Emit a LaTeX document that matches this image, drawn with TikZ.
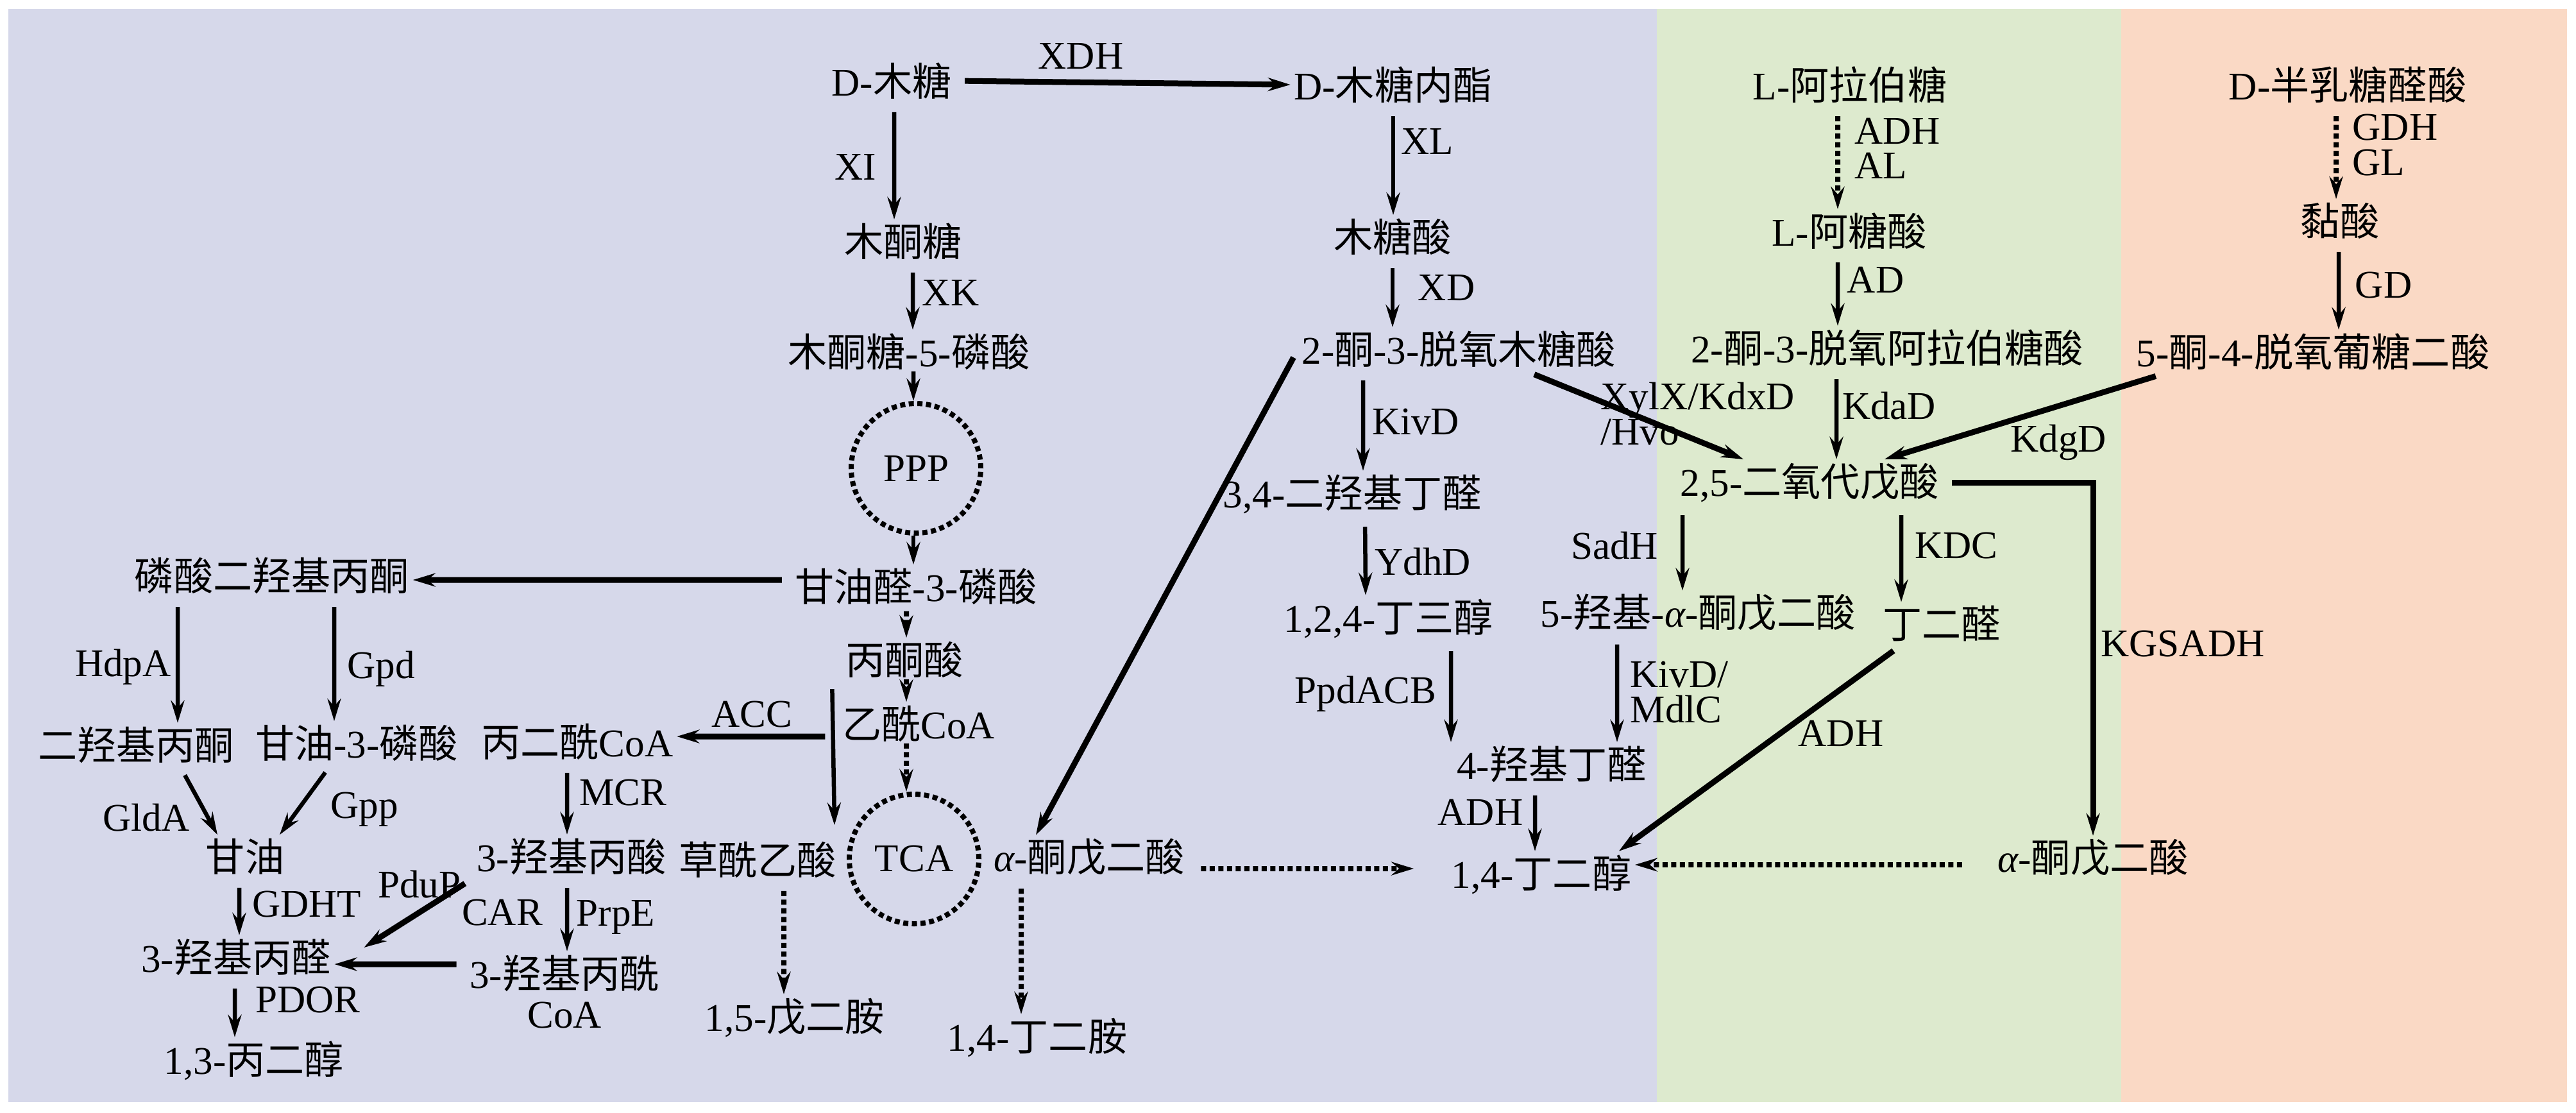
\documentclass[tikz,border=0pt]{standalone}
\usepackage{fontspec}
\setmainfont{Liberation Serif}
\newfontfamily\zhfont{Noto Sans CJK SC}
\usepackage{tikz}
\usetikzlibrary{arrows.meta}

\definecolor{bgpurple}{RGB}{214,216,234}
\definecolor{bggreen}{RGB}{221,234,206}
\definecolor{bgorange}{RGB}{250,217,197}
\newcommand{\zh}[1]{{\zhfont #1}}
\newcommand{\lbl}{\fontsize{17.4}{20}\selectfont}

\begin{document}
\begin{tikzpicture}[
  cpd/.style={inner sep=0.5mm, font=\lbl},
  enz/.style={inner sep=0.5mm, font=\lbl},
  enzz/.style={enz, align=left, anchor=west, font=\fontsize{17.4}{15.4}\selectfont},
  cyc/.style={circle, draw, line width=0.8mm, dash pattern=on 0.8mm off 0.55mm, minimum size=2.02cm, inner sep=0pt, font=\lbl},
  arr/.style={line width=0.65mm, -{Stealth[length=3.5mm,width=2.1mm,inset=1.2mm]}, shorten <=1.5mm},
  tarr/.style={arr, line width=0.9mm},
  darr/.style={arr, line width=0.8mm, dash pattern=on 0.8mm off 0.55mm}]
\useasboundingbox (0,0) rectangle (40.16,-17.34);
% panels
\fill[bgpurple] (0.13,-0.14) rectangle (25.83,-17.18);
\fill[bggreen] (25.83,-0.14) rectangle (33.07,-17.18);
\fill[bgorange] (33.07,-0.14) rectangle (40.02,-17.18);

% D-xylose, left branch
\node[cpd] (xyl) at (13.90,-1.26) {D-\zh{木糖}};
\node[cpd] (xylact) at (21.72,-1.32) {D-\zh{木糖内酯}};
\node[cpd] (xylu) at (14.08,-3.76) {\zh{木酮糖}};
\node[cpd] (x5p) at (14.17,-5.48) {\zh{木酮糖}-5-\zh{磷酸}};
\node[cyc] (ppp) at (14.28,-7.30) {PPP};
\node[cpd] (g3p) at (14.28,-9.14) {\zh{甘油醛}-3-\zh{磷酸}};
\node[cpd] (dhap) at (4.24,-8.97) {\zh{磷酸二羟基丙酮}};
\node[cpd] (pyr) at (14.10,-10.28) {\zh{丙酮酸}};
\node[cpd] (accoa) at (14.32,-11.28) {\zh{乙酰}CoA};
\node[cyc] (tca) at (14.25,-13.39) {TCA};
\node[cpd] (oaa) at (11.81,-13.40) {\zh{草酰乙酸}};
\node[cpd] (akg) at (16.98,-13.36) {{\itshape α}-\zh{酮戊二酸}};
\node[cpd] (cad) at (12.39,-15.86) {1,5-\zh{戊二胺}};
\node[cpd] (put) at (16.17,-16.17) {1,4-\zh{丁二胺}};
\node[cpd] (malcoa) at (9.00,-11.56) {\zh{丙二酰}CoA};
\node[cpd] (hp) at (8.91,-13.35) {3-\zh{羟基丙酸}};
\node[cpd, align=center, font=\fontsize{17.4}{17.9}\selectfont] (hpcoa) at (8.80,-15.46) {3-\zh{羟基丙酰}\\CoA};
\node[cpd] (hpa) at (3.68,-14.92) {3-\zh{羟基丙醛}};
\node[cpd] (pdo) at (3.96,-16.53) {1,3-\zh{丙二醇}};
\node[cpd] (dha) at (2.12,-11.61) {\zh{二羟基丙酮}};
\node[cpd] (g3pl) at (5.56,-11.58) {\zh{甘油}-3-\zh{磷酸}};
\node[cpd] (gly) at (3.82,-13.35) {\zh{甘油}};

% D-xylonate branch
\node[cpd] (xyla) at (21.71,-3.69) {\zh{木糖酸}};
\node[cpd] (kdx) at (22.74,-5.44) {2-\zh{酮}-3-\zh{脱氧木糖酸}};
\node[cpd] (dhb) at (21.08,-7.70) {3,4-\zh{二羟基丁醛}};
\node[cpd] (bt) at (21.65,-9.64) {1,2,4-\zh{丁三醇}};
\node[cpd] (hba) at (24.19,-11.91) {4-\zh{羟基丁醛}};
\node[cpd] (bdo) at (24.03,-13.63) {1,4-\zh{丁二醇}};
\node[cpd] (hkg) at (26.47,-9.55) {5-\zh{羟基}-{\itshape α}-\zh{酮戊二酸}};

% L-arabinose
\node[cpd] (ara) at (28.84,-1.32) {L-\zh{阿拉伯糖}};
\node[cpd] (arac) at (28.83,-3.60) {L-\zh{阿糖酸}};
\node[cpd] (kda) at (29.42,-5.42) {2-\zh{酮}-3-\zh{脱氧阿拉伯糖酸}};
\node[cpd] (dop) at (28.21,-7.52) {2,5-\zh{二氧代戊酸}};
\node[cpd] (sucald) at (30.27,-9.72) {\zh{丁二醛}};
\node[cpd] (akgg) at (32.63,-13.37) {{\itshape α}-\zh{酮戊二酸}};

% D-galacturonate
\node[cpd] (gal) at (36.60,-1.32) {D-\zh{半乳糖醛酸}};
\node[cpd] (muc) at (36.48,-3.44) {\zh{黏酸}};
\node[cpd] (kdg) at (36.06,-5.48) {5-\zh{酮}-4-\zh{脱氧葡糖二酸}};

% enzymes
\node[enz] (e-xdh) at (16.85,-0.88) {XDH};
\node[enz] (e-xi) at (13.34,-2.60) {XI};
\node[enz] (e-xk) at (14.82,-4.56) {XK};
\node[enz] (e-xl) at (22.25,-2.20) {XL};
\node[enz] (e-xd) at (22.55,-4.49) {XD};
\node[enz] (e-kivd) at (22.07,-6.58) {KivD};
\node[enz] (e-ydhd) at (22.18,-8.76) {YdhD};
\node[enz] (e-ppd) at (21.29,-10.82) {PpdACB};
\node[enzz] (e-mdlc) at (25.36,-10.79) {KivD/\\MdlC};
\node[enz] (e-adh1) at (23.08,-12.66) {ADH};
\node[enz] (e-adh2) at (28.70,-11.43) {ADH};
\node[enzz] (e-xylx) at (24.90,-6.45) {XylX/KdxD\\/Hvo};
\node[enz] (e-sadh) at (25.17,-8.51) {SadH};
\node[enz] (e-kdc) at (30.50,-8.51) {KDC};
\node[enz] (e-kgsadh) at (34.03,-10.04) {KGSADH};
\node[enzz] (e-adhal) at (28.86,-2.31) {ADH\\AL};
\node[enz] (e-ad) at (29.24,-4.36) {AD};
\node[enz] (e-kdad) at (29.45,-6.33) {KdaD};
\node[enz] (e-kdgd) at (32.09,-6.90) {KdgD};
\node[enzz] (e-gdhgl) at (36.62,-2.26) {GDH\\GL};
\node[enz] (e-gd) at (37.16,-4.45) {GD};
\node[enz] (e-hdpa) at (1.92,-10.40) {HdpA};
\node[enz] (e-gpd) at (5.94,-10.43) {Gpd};
\node[enz] (e-glda) at (2.28,-12.75) {GldA};
\node[enz] (e-gpp) at (5.68,-12.62) {Gpp};
\node[enz] (e-acc) at (11.72,-11.14) {ACC};
\node[enz] (e-mcr) at (9.71,-12.36) {MCR};
\node[enz] (e-gdht) at (4.78,-14.10) {GDHT};
\node[enz] (e-pdup) at (6.54,-13.79) {PduP};
\node[enz] (e-car) at (7.83,-14.23) {CAR};
\node[enz] (e-prpe) at (9.60,-14.30) {PrpE};
\node[enz] (e-pdor) at (4.80,-15.59) {PDOR};

% connectors, xylose isomerase route
\draw[tarr] (xyl.east) -- (xylact.west);
\draw[arr] ([xshift=0.4mm]xyl.south) -- ([xshift=-1.4mm]xylu.north);
\draw[arr] ([xshift=1.5mm]xylu.south) -- ([xshift=0.6mm]x5p.north);
\draw[arr, shorten <=0mm] ([xshift=0.7mm,yshift=0.3mm]x5p.south) -- ([xshift=-0.4mm]ppp.north);
\draw[arr, shorten <=0mm] ([xshift=-0.4mm]ppp.south) -- ([xshift=-0.4mm]g3p.north);
\draw[tarr] ([yshift=1mm]g3p.west) -- ([yshift=-0.7mm]dhap.east);
\draw[darr, shorten <=0.5mm] ([xshift=-1.5mm]g3p.south) -- ([xshift=0.3mm]pyr.north);
\draw[darr, shorten <=0mm] ([xshift=0.3mm,yshift=0.3mm]pyr.south) -- ([xshift=-1.9mm]accoa.north);
\draw[darr, shorten <=0mm] ([xshift=-1.9mm,yshift=0.3mm]accoa.south) -- ([xshift=-1.2mm]tca.north);
\draw[arr, shorten <=0mm] ([xshift=-1mm,yshift=2mm]accoa.north west) -- ([xshift=-0.8mm,yshift=2mm]oaa.north east);
\draw[tarr, shorten <=0mm] ([xshift=-2.1mm,yshift=-2mm]accoa.west) -- ([yshift=0.8mm]malcoa.east);
\draw[arr] ([xshift=-1.6mm]malcoa.south) -- ([xshift=-0.7mm]hp.north);
\draw[arr] ([xshift=-0.7mm]hp.south) -- ([xshift=0.4mm]hpcoa.north);
\draw[tarr] (hp.south west) -- ([shift={(0.46,0.15)}]hpa.east);
\draw[tarr] ([yshift=4.3mm]hpcoa.west) -- ([yshift=-1.1mm]hpa.east);
\draw[arr] ([xshift=-14.7mm]dhap.south) -- ([xshift=6.5mm]dha.north);
\draw[arr] ([xshift=9.7mm]dhap.south) -- ([xshift=-3.5mm]g3pl.north);
\draw[arr] ([xshift=6.9mm]dha.south) -- ([xshift=-4.3mm]gly.north);
\draw[arr] ([xshift=-4mm]g3pl.south) -- ([xshift=5.4mm]gly.north);
\draw[arr] ([xshift=-0.9mm]gly.south) -- ([xshift=0.5mm]hpa.north);
\draw[arr] ([xshift=-0.2mm]hpa.south) -- ([xshift=-3mm]pdo.north);
\draw[darr] ([xshift=4.1mm]oaa.south) -- ([xshift=-1.7mm]cad.north);
\draw[darr] ([xshift=-10.6mm]akg.south) -- ([xshift=-2.5mm]put.north);
\draw[darr, shorten <=2mm, shorten >=5.3mm] ([yshift=-1.8mm]akg.east) -- ([yshift=0.9mm]bdo.west);

% xylonate route
\draw[arr] (xylact.south) -- (xylact.south |- xyla.north);
\draw[arr] (xyla.south) -- (xyla.south |- kdx.north);
\draw[tarr] (kdx.west) -- ([xshift=-8.3mm]akg.north);
\draw[arr] ([xshift=-14.9mm]kdx.south) -- ([xshift=1.7mm]dhb.north);
\draw[arr] ([xshift=2mm]dhb.south) -- ([xshift=-3.6mm]bt.north);
\draw[arr] ([xshift=9.7mm]bt.south) -- ([xshift=-15.7mm]hba.north);
\draw[arr] ([xshift=-12.6mm]hkg.south) -- ([xshift=10.2mm]hba.north);
\draw[arr] ([xshift=-2.6mm]hba.south) -- ([xshift=-1mm]bdo.north);
\draw[tarr] ([xshift=10.4mm]kdx.south) -- ([xshift=-10.3mm]dop.north);

% arabinose and galacturonate routes
\draw[darr] ([xshift=-1.9mm]ara.south) -- ([xshift=-1.8mm]arac.north);
\draw[arr] ([xshift=-1.8mm]arac.south) -- ([xshift=-7.7mm]kda.north);
\draw[arr] ([xshift=-7.9mm]kda.south) -- ([xshift=4.2mm]dop.north);
\draw[darr] ([xshift=-1.8mm]gal.south) -- ([xshift=-0.6mm]muc.north);
\draw[arr] ([xshift=-0.2mm]muc.south) -- ([xshift=4mm]kdg.north);
\draw[tarr] ([xshift=5mm]kdg.south west) -- ([xshift=11.7mm]dop.north);
\draw[tarr] (dop.east) -| (akgg.north);
\draw[arr] ([xshift=-19.8mm]dop.south) -- ([xshift=-2.4mm]hkg.north);
\draw[arr] ([xshift=14.3mm]dop.south) -- ([xshift=-6.3mm]sucald.north);
\draw[tarr] ([xshift=-6.3mm]sucald.south) -- ([xshift=-2.5mm]bdo.north east);
\draw[darr, shorten <=5mm] ([yshift=-1.1mm]akgg.west) -- ([yshift=1.5mm]bdo.east);
\end{tikzpicture}
\end{document}
